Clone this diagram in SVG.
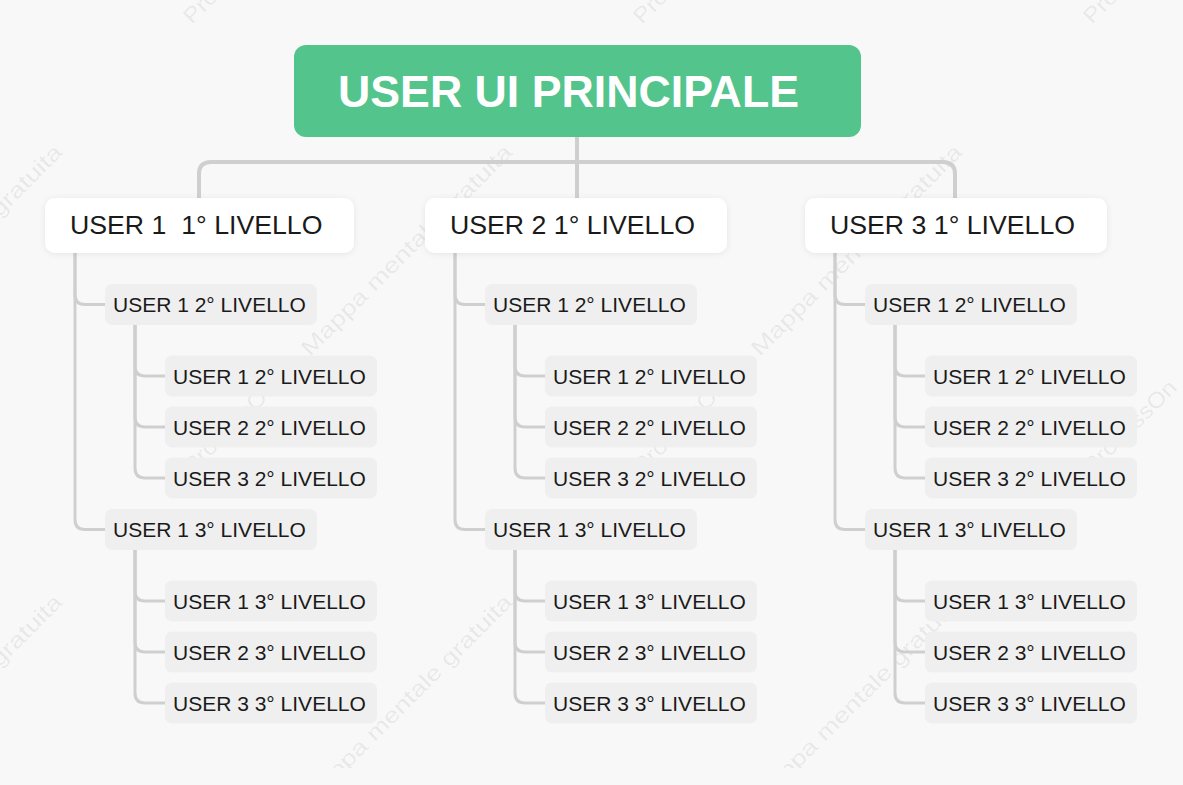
<svg xmlns="http://www.w3.org/2000/svg" width="1183" height="785" viewBox="0 0 1183 785">
<style>
.bg{fill:#f8f8f8}
.wm{font-family:"Liberation Sans",Arial,sans-serif;font-size:22px;fill:#000;fill-opacity:0.075}
.root{fill:#52c48c}
.rootT{font-family:"Liberation Sans",Arial,sans-serif;font-size:44.7px;font-weight:bold;fill:#fff}
.l1{fill:#fff}
.l1T{font-family:"Liberation Sans",Arial,sans-serif;font-size:26.7px;fill:#1a1a1a}
.l2{fill:#efefef}
.l2T{font-family:"Liberation Sans",Arial,sans-serif;font-size:21px;fill:#1a1a1a}
.c{fill:none;stroke:#cfcfcf;stroke-width:3;stroke-linecap:round}
.ct{fill:none;stroke:#cfcfcf;stroke-width:4}
</style>
<defs>
<filter id="sh" x="-10%" y="-30%" width="120%" height="160%">
<feDropShadow dx="0" dy="1" stdDeviation="3" flood-color="#000" flood-opacity="0.08"/>
</filter>
<clipPath id="wclip"><rect x="0" y="0" width="1183" height="768"/></clipPath>
<g id="wmTile">
<text class="wm" x="0" y="0" transform="translate(192 475) rotate(-45)" textLength="122" lengthAdjust="spacingAndGlyphs">ProcessOn</text>
<text class="wm" x="0" y="0" transform="translate(310 357) rotate(-45)" textLength="288" lengthAdjust="spacingAndGlyphs">Mappa mentale gratuita</text>
</g>
</defs>
<rect class="bg" x="0" y="0" width="1183" height="785"/>
<g id="watermark" clip-path="url(#wclip)">
<use href="#wmTile" transform="translate(-450 -450)"/>
<use href="#wmTile" transform="translate(0 -450)"/>
<use href="#wmTile" transform="translate(450 -450)"/>
<use href="#wmTile" transform="translate(900 -450)"/>
<use href="#wmTile" transform="translate(-450 0)"/>
<use href="#wmTile" transform="translate(0 0)"/>
<use href="#wmTile" transform="translate(450 0)"/>
<use href="#wmTile" transform="translate(900 0)"/>
<use href="#wmTile" transform="translate(-450 450)"/>
<use href="#wmTile" transform="translate(0 450)"/>
<use href="#wmTile" transform="translate(450 450)"/>
<use href="#wmTile" transform="translate(900 450)"/>
</g>
<g id="connectors">
<path class="ct" d="M577 137 V198"/>
<path class="ct" d="M199 198 V174 Q199 162 211 162 H943 Q955 162 955 174 V198"/>
<g id="conn-col1">
<path class="c" d="M75 253 V294.5 Q75 304.5 85 304.5 H105"/>
<path class="c" d="M75 253 V519.5 Q75 529.5 85 529.5 H105"/>
<path class="c" d="M135 325 V366 Q135 376 145 376 H165"/>
<path class="c" d="M135 325 V417 Q135 427 145 427 H165"/>
<path class="c" d="M135 325 V468 Q135 478 145 478 H165"/>
<path class="c" d="M135 550 V591 Q135 601 145 601 H165"/>
<path class="c" d="M135 550 V642 Q135 652 145 652 H165"/>
<path class="c" d="M135 550 V693 Q135 703 145 703 H165"/>
</g>
<use href="#conn-col1" transform="translate(380 0)"/>
<use href="#conn-col1" transform="translate(760 0)"/>
</g>
<g id="root">
<rect class="root" x="294" y="45" width="567" height="92" rx="12"/>
<text class="rootT" x="338" y="107">USER UI PRINCIPALE</text>
</g>
<g id="n1">
<rect class="l1" filter="url(#sh)" x="45" y="198" width="309" height="55" rx="10"/>
<text class="l1T" x="70" y="234" xml:space="preserve">USER 1  1° LIVELLO</text>
</g>
<g id="n1-a"><rect class="l2" x="105" y="284" width="212" height="41" rx="7"/><text class="l2T" x="113" y="312">USER 1 2° LIVELLO</text></g>
<g id="n1-a1"><rect class="l2" x="165" y="355.5" width="212" height="41" rx="7"/><text class="l2T" x="173" y="383.5">USER 1 2° LIVELLO</text></g>
<g id="n1-a2"><rect class="l2" x="165" y="406.5" width="212" height="41" rx="7"/><text class="l2T" x="173" y="434.5">USER 2 2° LIVELLO</text></g>
<g id="n1-a3"><rect class="l2" x="165" y="457.5" width="212" height="41" rx="7"/><text class="l2T" x="173" y="485.5">USER 3 2° LIVELLO</text></g>
<g id="n1-b"><rect class="l2" x="105" y="509" width="212" height="41" rx="7"/><text class="l2T" x="113" y="537">USER 1 3° LIVELLO</text></g>
<g id="n1-b1"><rect class="l2" x="165" y="580.5" width="212" height="41" rx="7"/><text class="l2T" x="173" y="608.5">USER 1 3° LIVELLO</text></g>
<g id="n1-b2"><rect class="l2" x="165" y="631.5" width="212" height="41" rx="7"/><text class="l2T" x="173" y="659.5">USER 2 3° LIVELLO</text></g>
<g id="n1-b3"><rect class="l2" x="165" y="682.5" width="212" height="41" rx="7"/><text class="l2T" x="173" y="710.5">USER 3 3° LIVELLO</text></g>
<g id="n2">
<rect class="l1" filter="url(#sh)" x="425" y="198" width="302" height="55" rx="10"/>
<text class="l1T" x="450" y="234">USER 2 1° LIVELLO</text>
</g>
<g id="n2-a"><rect class="l2" x="485" y="284" width="212" height="41" rx="7"/><text class="l2T" x="493" y="312">USER 1 2° LIVELLO</text></g>
<g id="n2-a1"><rect class="l2" x="545" y="355.5" width="212" height="41" rx="7"/><text class="l2T" x="553" y="383.5">USER 1 2° LIVELLO</text></g>
<g id="n2-a2"><rect class="l2" x="545" y="406.5" width="212" height="41" rx="7"/><text class="l2T" x="553" y="434.5">USER 2 2° LIVELLO</text></g>
<g id="n2-a3"><rect class="l2" x="545" y="457.5" width="212" height="41" rx="7"/><text class="l2T" x="553" y="485.5">USER 3 2° LIVELLO</text></g>
<g id="n2-b"><rect class="l2" x="485" y="509" width="212" height="41" rx="7"/><text class="l2T" x="493" y="537">USER 1 3° LIVELLO</text></g>
<g id="n2-b1"><rect class="l2" x="545" y="580.5" width="212" height="41" rx="7"/><text class="l2T" x="553" y="608.5">USER 1 3° LIVELLO</text></g>
<g id="n2-b2"><rect class="l2" x="545" y="631.5" width="212" height="41" rx="7"/><text class="l2T" x="553" y="659.5">USER 2 3° LIVELLO</text></g>
<g id="n2-b3"><rect class="l2" x="545" y="682.5" width="212" height="41" rx="7"/><text class="l2T" x="553" y="710.5">USER 3 3° LIVELLO</text></g>
<g id="n3">
<rect class="l1" filter="url(#sh)" x="805" y="198" width="302" height="55" rx="10"/>
<text class="l1T" x="830" y="234">USER 3 1° LIVELLO</text>
</g>
<g id="n3-a"><rect class="l2" x="865" y="284" width="212" height="41" rx="7"/><text class="l2T" x="873" y="312">USER 1 2° LIVELLO</text></g>
<g id="n3-a1"><rect class="l2" x="925" y="355.5" width="212" height="41" rx="7"/><text class="l2T" x="933" y="383.5">USER 1 2° LIVELLO</text></g>
<g id="n3-a2"><rect class="l2" x="925" y="406.5" width="212" height="41" rx="7"/><text class="l2T" x="933" y="434.5">USER 2 2° LIVELLO</text></g>
<g id="n3-a3"><rect class="l2" x="925" y="457.5" width="212" height="41" rx="7"/><text class="l2T" x="933" y="485.5">USER 3 2° LIVELLO</text></g>
<g id="n3-b"><rect class="l2" x="865" y="509" width="212" height="41" rx="7"/><text class="l2T" x="873" y="537">USER 1 3° LIVELLO</text></g>
<g id="n3-b1"><rect class="l2" x="925" y="580.5" width="212" height="41" rx="7"/><text class="l2T" x="933" y="608.5">USER 1 3° LIVELLO</text></g>
<g id="n3-b2"><rect class="l2" x="925" y="631.5" width="212" height="41" rx="7"/><text class="l2T" x="933" y="659.5">USER 2 3° LIVELLO</text></g>
<g id="n3-b3"><rect class="l2" x="925" y="682.5" width="212" height="41" rx="7"/><text class="l2T" x="933" y="710.5">USER 3 3° LIVELLO</text></g>
</svg>
